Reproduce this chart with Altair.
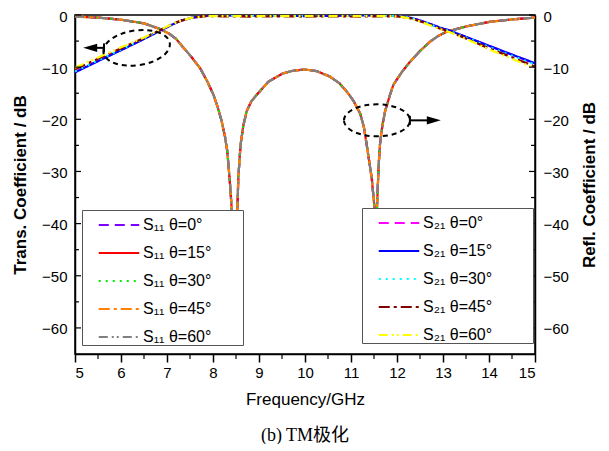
import altair as alt
import pandas as pd

# ---------------- data ----------------
s11_labels = ["S\u2081\u2081 \u03b8=0\u00b0", "S\u2081\u2081 \u03b8=15\u00b0", "S\u2081\u2081 \u03b8=30\u00b0",
              "S\u2081\u2081 \u03b8=45\u00b0", "S\u2081\u2081 \u03b8=60\u00b0"]
s21_labels = ["S\u2082\u2081 \u03b8=0\u00b0", "S\u2082\u2081 \u03b8=15\u00b0", "S\u2082\u2081 \u03b8=30\u00b0",
              "S\u2082\u2081 \u03b8=45\u00b0", "S\u2082\u2081 \u03b8=60\u00b0"]
s11_colors = ["#8000ff", "#ff0000", "#00ee00", "#ff8000", "#808080"]
s21_colors = ["#ff00ff", "#0000ff", "#00ffff", "#800000", "#ffff00"]
dashes = [[10, 6], [1, 0], [2, 5], [11, 4, 3, 4], [9, 4, 2, 3, 2, 4]]

freq_s11 = [5.0, 5.5, 6.0, 6.5, 6.85, 7.05, 7.2, 7.35, 7.5, 7.72, 7.88, 8.01, 8.1, 8.19, 8.26,
            8.31, 8.37, 8.41, 8.47, 8.53, 8.55, 8.6, 8.66, 8.73, 8.83, 8.95, 9.2, 9.52, 9.75,
            10.0, 10.25, 10.54, 10.75, 10.91, 11.05, 11.2, 11.28, 11.34, 11.45, 11.51, 11.54,
            11.565, 11.6, 11.63, 11.68, 11.74, 11.83, 11.92, 12.1, 12.28, 12.5, 12.72, 12.9,
            13.08, 13.5, 14.02, 14.5, 15.0]
s11_db = [-0.3, -0.5, -0.9, -1.6, -2.7, -3.6, -4.6, -6.2, -7.7, -10.2, -12.8, -15.3, -17.6,
          -20.4, -23.3, -26.1, -32.4, -37.5, -52.0, -37.5, -31.2, -24.8, -21.2, -18.5, -16.6,
          -15.3, -12.8, -11.2, -10.65, -10.45, -10.75, -11.8, -13.1, -14.7, -16.4, -18.9,
          -21.5, -24.8, -31.2, -36.9, -52.0, -36.9, -29.0, -24.8, -21.3, -18.5, -15.8, -13.4,
          -11.0, -9.0, -6.9, -5.1, -4.0, -3.2, -2.2, -1.3, -0.85, -0.5]

freq_s21 = [5.0, 5.5, 6.0, 6.5, 6.85, 7.1, 7.3, 7.55, 7.85, 8.2, 8.8, 9.5, 10.0, 10.5, 11.2,
            11.8, 12.07, 12.3, 12.5, 12.7, 12.93, 13.15, 13.5, 14.0, 14.5, 15.0]
s21_db_0 = [-10.9, -8.8, -6.7, -4.6, -3.0, -1.9, -1.1, -0.5, -0.15, -0.05, -0.1, -0.15, -0.2,
            -0.15, -0.1, -0.1, -0.2, -0.55, -1.05, -1.65, -2.4, -3.0, -4.2, -5.9, -7.6, -9.3]
s21_db_15 = [-11.0, -8.85, -6.75, -4.6, -3.0, -1.9, -1.1, -0.5, -0.15, -0.05, -0.1, -0.15, -0.2,
             -0.15, -0.1, -0.1, -0.2, -0.55, -1.05, -1.65, -2.4, -3.0, -4.2, -5.9, -7.6, -9.25]
s21_db_30 = [-10.8, -8.7, -6.6, -4.5, -2.95, -1.85, -1.1, -0.5, -0.15, -0.05, -0.1, -0.15, -0.2,
             -0.15, -0.1, -0.1, -0.2, -0.6, -1.1, -1.7, -2.5, -3.1, -4.3, -6.1, -7.8, -9.5]
s21_db_45 = [-10.4, -8.4, -6.4, -4.4, -2.9, -1.8, -1.1, -0.5, -0.2, -0.25, -0.3, -0.25, -0.3,
             -0.25, -0.3, -0.25, -0.3, -0.65, -1.2, -1.8, -2.6, -3.2, -4.5, -6.4, -8.1, -9.9]
s21_db_60 = [-10.1, -8.15, -6.2, -4.3, -2.85, -1.8, -1.1, -0.5, -0.2, -0.2, -0.2, -0.2, -0.2,
             -0.2, -0.2, -0.2, -0.3, -0.7, -1.25, -1.9, -2.7, -3.3, -4.6, -6.6, -8.4, -10.2]
s21_all = [s21_db_0, s21_db_15, s21_db_30, s21_db_45, s21_db_60]

x_major = list(range(5, 16))
x_minor = [5.5, 6.5, 7.5, 8.5, 9.5, 10.5, 11.5, 12.5, 13.5, 14.5]
y_major = [0, -10, -20, -30, -40, -50, -60]
y_minor = [-5, -15, -25, -35, -45, -55]

# annotation anchors (GHz, dB)
ell_f = [6.34, 11.565]
ell_db = [-6.3, -20.2]
arrow_f1 = [5.63, 12.28]
arrow_f2 = [5.30, 12.75]
head_f = [5.33, 12.80]

# ---------------- build tables ----------------
W, H = 460, 339
rows = []
for lab in s11_labels:
    for f, v in zip(freq_s11, s11_db):
        rows.append({"f": f, "db": v, "label": lab})
df11 = pd.DataFrame(rows)
rows = []
for lab, arr in zip(s21_labels, s21_all):
    for f, v in zip(freq_s21, arr):
        rows.append({"f": f, "db": v, "label": lab})
df21 = pd.DataFrame(rows)

xs = alt.Scale(domain=[5, 15], nice=False, zero=False)
ys = alt.Scale(domain=[-65, 0], nice=False, zero=False)

x_axis = alt.Axis(title="Frequency/GHz", values=x_major, format="d", tickSize=8,
                  labelPadding=3, titlePadding=11, titleFontWeight="normal")

nb = "\u00a0"
zw = "\u200b"


def legend(x, y, n_sp):
    return alt.Legend(title=None, orient="none", legendX=x, legendY=y,
                      symbolType="M -1.5 0 L 1.5 0", symbolSize=729, symbolStrokeWidth=2.2,
                      symbolFillColor="transparent", symbolOffset=22, labelOffset=9,
                      padding=0, rowPadding=5, fillColor="white", strokeColor="#555555",
                      labelFontSize=16, labelFont="Liberation Sans", labelColor="black",
                      labelExpr="datum.label + '" + nb * n_sp + zw + "'", zindex=2,
                      labelLimit=400)


s11 = alt.Chart(df11).mark_line(strokeWidth=2.2, clip=True).encode(
    x=alt.X("f:Q", scale=xs, axis=x_axis),
    y=alt.Y("db:Q", scale=ys, axis=alt.Axis(title="Trans. Coefficient / dB", values=y_major,
                                             ticks=False, labelPadding=8, titlePadding=12,
                                             labelOffset=1)),
    color=alt.Color("label:N", scale=alt.Scale(domain=s11_labels, range=s11_colors),
                    legend=legend(7, 195, 7)),
    strokeDash=alt.StrokeDash("label:N", scale=alt.Scale(domain=s11_labels, range=dashes),
                              legend=legend(7, 195, 7)),
    order=alt.Order("f:Q"),
)

s21 = alt.Chart(df21).mark_line(strokeWidth=2.2, clip=True).encode(
    x=alt.X("f:Q", scale=xs, axis=x_axis),
    y=alt.Y("db:Q", scale=ys, axis=alt.Axis(title="Refl. Coefficient / dB", orient="right",
                                             values=y_major, ticks=False, labelPadding=8,
                                             titlePadding=30, titleAngle=270, labelOffset=1)),
    color=alt.Color("label:N", scale=alt.Scale(domain=s21_labels, range=s21_colors),
                    legend=legend(287, 193, 9)),
    strokeDash=alt.StrokeDash("label:N", scale=alt.Scale(domain=s21_labels, range=dashes),
                              legend=legend(287, 193, 9)),
    order=alt.Order("f:Q"),
)


def yrule(vals, x1, x2):
    return alt.Chart(pd.DataFrame({"v": vals})).mark_rule(color="black", strokeWidth=1.2).encode(
        y=alt.Y("v:Q", scale=ys, axis=None), x=alt.value(x1), x2=alt.value(x2))


ytick_l_major = yrule(y_major, 0, 6)
ytick_l_minor = yrule(y_minor, 0, 4)
ytick_r_major = yrule(y_major, W, W - 6)
ytick_r_minor = yrule(y_minor, W, W - 4)
xtick_minor = alt.Chart(pd.DataFrame({"f": x_minor})).mark_rule(color="black", strokeWidth=1.2).encode(
    x=alt.X("f:Q", scale=xs, axis=x_axis), y=alt.value(H), y2=alt.value(H + 5))

ann = pd.DataFrame({"f": ell_f, "db": ell_db, "f1": arrow_f1, "f2": arrow_f2,
                    "hf": head_f, "kind": ["l", "r"]})
ell_l = alt.Chart(ann[ann.kind == "l"]).mark_point(
    shape="M -1 0 A 1 0.52 0 1 1 1 0 A 1 0.52 0 1 1 -1 0 Z", size=4489, filled=False,
    stroke="black", strokeWidth=2, strokeDash=[5, 4], opacity=1, angle=352).encode(
    x=alt.X("f:Q", scale=xs, axis=x_axis), y=alt.Y("db:Q", scale=ys, axis=None))
ell_r = alt.Chart(ann[ann.kind == "r"]).mark_point(
    shape="M -1 0 A 1 0.485 0 1 1 1 0 A 1 0.485 0 1 1 -1 0 Z", size=4356, filled=False,
    stroke="black", strokeWidth=2, strokeDash=[5, 4], opacity=1).encode(
    x=alt.X("f:Q", scale=xs, axis=x_axis), y=alt.Y("db:Q", scale=ys, axis=None))
shafts = alt.Chart(ann).mark_rule(color="black", strokeWidth=2).encode(
    x=alt.X("f1:Q", scale=xs, axis=x_axis), x2="f2:Q", y=alt.Y("db:Q", scale=ys, axis=None))
bars = alt.Chart(ann).mark_point(shape="M 0 -1 L 0 1", size=81, stroke="black", strokeWidth=2,
                                 filled=False, opacity=1).encode(
    x=alt.X("f1:Q", scale=xs, axis=x_axis), y=alt.Y("db:Q", scale=ys, axis=None))
head_l = alt.Chart(ann[ann.kind == "l"]).mark_point(
    shape="M 1 -0.6 L -1 0 L 1 0.6 Z", size=196, filled=True, color="black", opacity=1).encode(
    x=alt.X("hf:Q", scale=xs, axis=x_axis), y=alt.Y("db:Q", scale=ys, axis=None))
head_r = alt.Chart(ann[ann.kind == "r"]).mark_point(
    shape="M -1 -0.6 L 1 0 L -1 0.6 Z", size=196, filled=True, color="black", opacity=1).encode(
    x=alt.X("hf:Q", scale=xs, axis=x_axis), y=alt.Y("db:Q", scale=ys, axis=None))

chart = alt.layer(
    s11, s21, ytick_l_major, ytick_l_minor, ytick_r_major, ytick_r_minor, xtick_minor,
    ell_l, ell_r, shafts, bars, head_l, head_r,
).resolve_scale(
    color="independent", strokeDash="independent"
).resolve_axis(
    y="independent"
).properties(
    width=W, height=H,
    autosize=alt.AutoSizeParams(type="none"),
    padding={"left": 67, "top": 7, "right": 66, "bottom": 90},
    title=alt.TitleParams(text="(b) TM\u6781\u5316", orient="bottom", anchor="middle",
                          font="'Liberation Serif', 'Noto Sans CJK SC'", fontSize=18,
                          fontWeight="normal", color="black", offset=20),
).configure_view(
    stroke="black", strokeWidth=1.5
).configure_axis(
    grid=False, domainColor="black", domainWidth=1.5, tickColor="black", tickWidth=1.5,
    labelFont="Liberation Sans", labelFontSize=15, labelColor="black",
    titleFont="Liberation Sans", titleFontSize=17, titleFontWeight="bold", titleColor="black",
)

chart.save("out.html", embed_options={"renderer": "svg", "actions": False})
